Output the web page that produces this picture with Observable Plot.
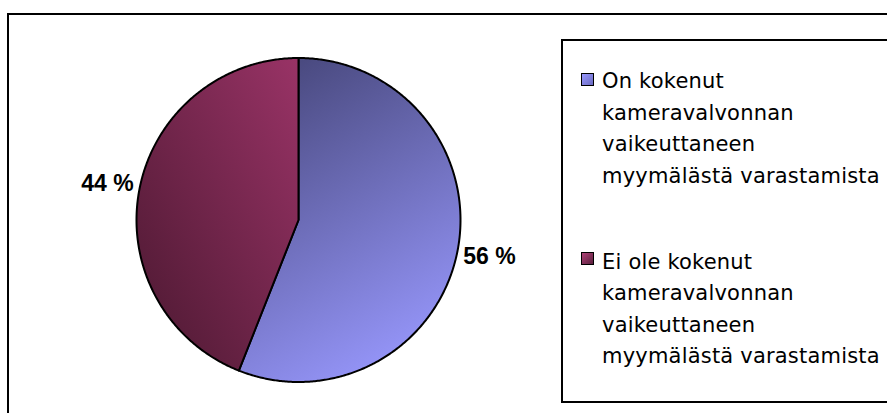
<!DOCTYPE html>
<html>
<head>
<meta charset="utf-8">
<script src="https://cdn.jsdelivr.net/npm/d3@7"></script>
<script src="https://cdn.jsdelivr.net/npm/@observablehq/plot@0.6"></script>
<style>
  html, body { margin: 0; padding: 0; background: #fff; }
  #wrap { position: relative; width: 887px; height: 413px; overflow: hidden; }
  #frame { position: absolute; left: 7px; top: 13px; width: 900px; height: 420px; border: 2px solid #000; }
  #legend { position: absolute; left: 561px; top: 39px; width: 340px; height: 364px; box-sizing: border-box; border: 2px solid #000; }
  .item { position: absolute; left: 602px; font-family: "DejaVu Sans", sans-serif; font-size: 21px; letter-spacing: 0.2px; line-height: 31.5px; color: #000; white-space: nowrap; }
  .sw { position: absolute; left: 581px; width: 13px; height: 13px; box-sizing: border-box; border: 1.5px solid #000; }
  #chart { position: absolute; left: 0; top: 0; }
</style>
</head>
<body>
<div id="wrap">
  <div id="frame"></div>
  <div id="legend"></div>
  <div id="chart"></div>
</div>
<svg width="0" height="0" style="position:absolute">
  <defs>
    <linearGradient id="gBlue" x1="0.3" y1="0" x2="0.7" y2="1">
      <stop offset="0" stop-color="#4a4a80"/>
      <stop offset="1" stop-color="#9999ff"/>
    </linearGradient>
    <linearGradient id="gRed" x1="1" y1="0" x2="0" y2="1">
      <stop offset="0" stop-color="#993366"/>
      <stop offset="1" stop-color="#4a1830"/>
    </linearGradient>
  </defs>
</svg>
<script>
// ---- data ----
const categories = [
  "On kokenut kameravalvonnan vaikeuttaneen myymälästä varastamista",
  "Ei ole kokenut kameravalvonnan vaikeuttaneen myymälästä varastamista"
];
const legendLines = [
  ["On kokenut", "kameravalvonnan", "vaikeuttaneen", "myymälästä varastamista"],
  ["Ei ole kokenut", "kameravalvonnan", "vaikeuttaneen", "myymälästä varastamista"]
];
const values = [56, 44];
const valueLabels = ["56 %", "44 %"];
const fills = ["url(#gBlue)", "url(#gRed)"];
const swatchFills = [
  "linear-gradient(135deg, #9999ff 0%, #6a6ac0 100%)",
  "linear-gradient(135deg, #b04478 0%, #5a1f3d 100%)"
];

// ---- geometry from data ----
const total = d3.sum(values);
let start = 0;
const slices = values.map((v, i) => {
  const a0 = start / total * 2 * Math.PI;
  const a1 = (start + v) / total * 2 * Math.PI;
  start += v;
  const pts = [{x: 0, y: 0}];
  const n = Math.max(2, Math.ceil((a1 - a0) / (Math.PI / 360)));
  for (let k = 0; k <= n; k++) {
    const a = a0 + (a1 - a0) * k / n;
    pts.push({x: Math.sin(a), y: Math.cos(a)});
  }
  pts.push({x: 0, y: 0});
  const am = (a0 + a1) / 2;
  return {pts, label: {x: 1.2 * Math.sin(am), y: 1.2 * Math.cos(am), text: valueLabels[i]}, fill: fills[i]};
});

const marks = [];
slices.forEach(s => {
  marks.push(Plot.line(s.pts, {x: "x", y: "y", fill: s.fill, stroke: "#000", strokeWidth: 2, strokeLinejoin: "round", curve: "linear"}));
});
marks.push(Plot.text(slices.map(s => s.label), {
  x: "x", y: "y", text: "text", textAnchor: "middle", lineAnchor: "middle",
  fontFamily: "Liberation Sans, Arial, sans-serif", fontWeight: "bold", fontSize: 23, fill: "#000"
}));

const W = 887, H = 413;
const plot = Plot.plot({
  width: W, height: H,
  marginLeft: 136, marginRight: W - 460, marginTop: 57.5, marginBottom: H - 381.5,
  x: {domain: [-1, 1], axis: null},
  y: {domain: [-1, 1], axis: null},
  style: {background: "transparent", overflow: "visible"},
  marks
});
document.getElementById("chart").appendChild(plot);

// ---- legend ----
const wrap = document.getElementById("wrap");
const tops = [66, 246.5];
const swTops = [73, 252];
legendLines.forEach((lines, i) => {
  const sw = document.createElement("div");
  sw.className = "sw";
  sw.style.top = swTops[i] + "px";
  sw.style.background = swatchFills[i];
  wrap.appendChild(sw);
  const it = document.createElement("div");
  it.className = "item";
  it.style.top = tops[i] + "px";
  it.title = categories[i];
  it.innerHTML = lines.map(l => `<div>${l}</div>`).join("");
  wrap.appendChild(it);
});
</script>
</body>
</html>
